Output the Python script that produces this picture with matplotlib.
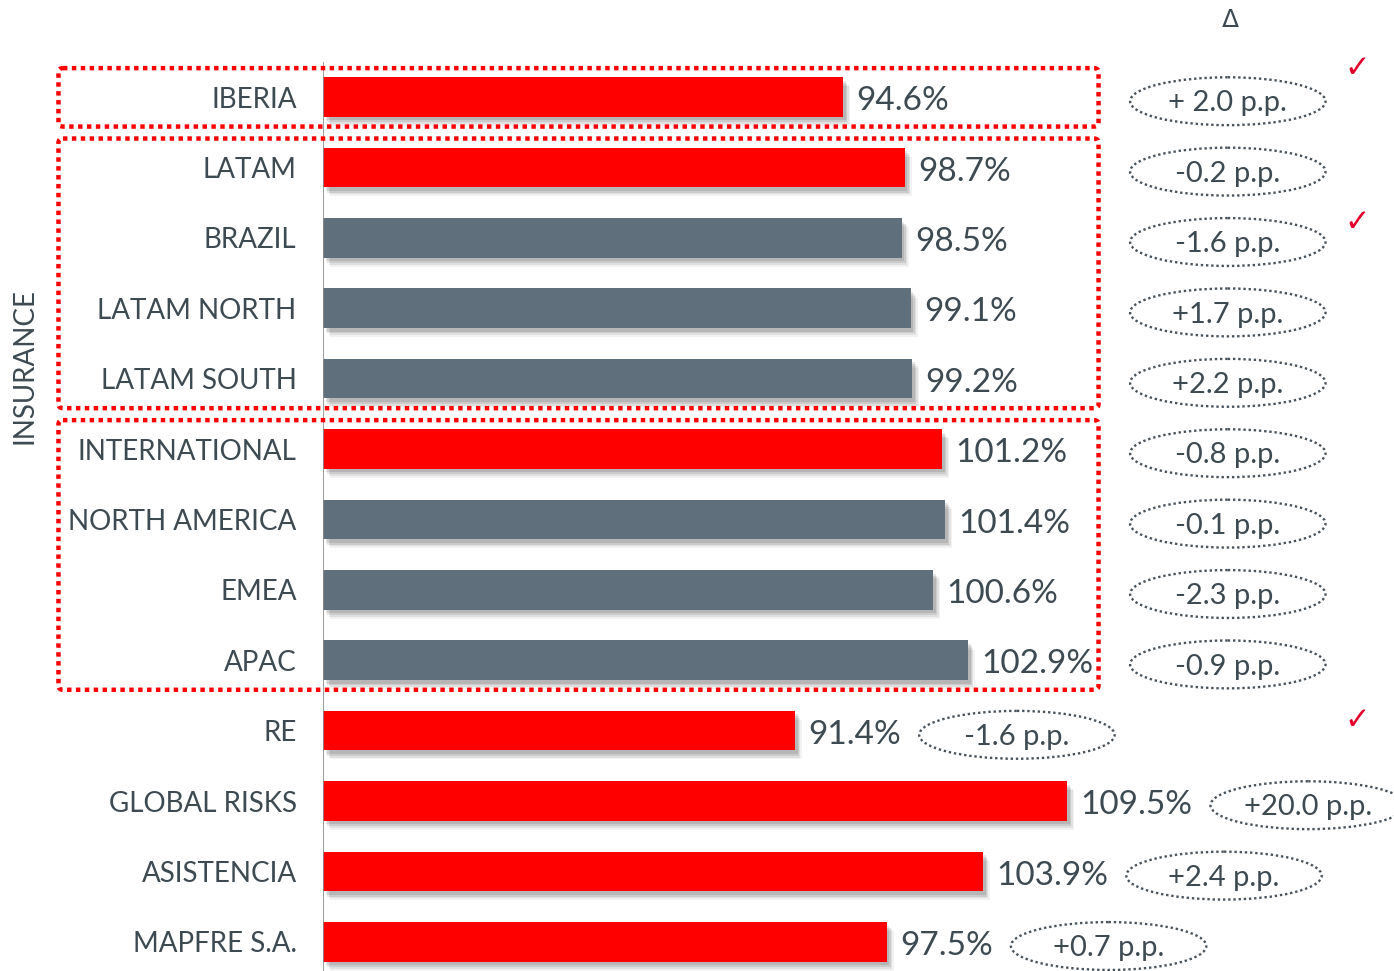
import matplotlib
matplotlib.use("Agg")
import matplotlib.pyplot as plt
from matplotlib.patches import Ellipse, FancyBboxPatch
import matplotlib.patheffects as pe

categories = ["IBERIA", "LATAM", "BRAZIL", "LATAM NORTH", "LATAM SOUTH",
              "INTERNATIONAL", "NORTH AMERICA", "EMEA", "APAC",
              "RE", "GLOBAL RISKS", "ASISTENCIA", "MAPFRE S.A."]
ratios = [94.6, 98.7, 98.5, 99.1, 99.2, 101.2, 101.4, 100.6, 102.9,
          91.4, 109.5, 103.9, 97.5]
deltas = ["+ 2.0 p.p.", "-0.2 p.p.", "-1.6 p.p.", "+1.7 p.p.", "+2.2 p.p.",
          "-0.8 p.p.", "-0.1 p.p.", "-2.3 p.p.", "-0.9 p.p.",
          "-1.6 p.p.", "+20.0 p.p.", "+2.4 p.p.", "+0.7 p.p."]
is_sub = [False, False, True, True, True, False, True, True, True,
          False, False, False, False]
groups = [(0, 0), (1, 4), (5, 8)]

RED = "#ff0000"
GREY = "#5f707c"
TXT = "#3e4a52"
FONT = "Lato"

W, H = 1394, 971
fig = plt.figure(figsize=(W / 100, H / 100), dpi=100)
ax = fig.add_axes([323 / W, 0, 1 - 323 / W, 1])
ax.set_xlim(60, 60 + (W - 323) / 15.03)
ax.set_ylim((H - 97) / 70.4, -97 / 70.4)
for s in ax.spines.values():
    s.set_visible(False)
ax.set_xticks([])

ys = list(range(len(categories)))
colors = [GREY if s else RED for s in is_sub]

# soft shadow under the bars
shadow = [pe.SimplePatchShadow(offset=(o, -o * 1.3), shadow_rgbFace="#000000", alpha=a)
          for o, a in [(5, 0.05), (4, 0.07), (3, 0.09), (2, 0.1)]] + [pe.Normal()]
bars = ax.barh(ys, [r - 60 for r in ratios], left=60, height=0.56, color=colors, zorder=3)
for b in bars:
    b.set_path_effects(shadow)

ax.vlines(60, -0.5, (H - 97) / 70.4, color="#8c8c8c", lw=1.2, zorder=4)

ax.set_yticks(ys)
ax.set_yticklabels(categories, fontsize=20, color=TXT, fontfamily=FONT)
ax.tick_params(axis="y", length=0, pad=19)

value_texts = []
for y, r in zip(ys, ratios):
    t = ax.text(r + 0.9, y + 0.06, f"{r:.1f}%", fontsize=24, color=TXT,
                fontfamily=FONT, va="center", ha="left", zorder=5)
    value_texts.append(t)

fig.canvas.draw()
renderer = fig.canvas.get_renderer()
inv = ax.transData.inverted()

ell_w = 13.0
for y, d, t in zip(ys, deltas, value_texts):
    if y <= 8:
        cx = 120.2
    else:
        # ellipse follows the value label
        end_px = t.get_window_extent(renderer).x1 + 18
        cx = inv.transform((end_px, 0))[0] + ell_w / 2
    ax.add_patch(Ellipse((cx, y + 0.06), ell_w, 0.68, fill=False, ec="#47525b",
                         lw=1.7, ls=(0, (1, 1.2)), clip_on=False, zorder=4))
    ax.text(cx, y + 0.09, d, fontsize=21, color=TXT, fontfamily=FONT,
            ha="center", va="center", zorder=5)

for a, b in groups:
    ax.add_patch(FancyBboxPatch((42.4, a - 0.41), 111.6 - 42.4, b - a + 0.83,
                                boxstyle="round,pad=0,rounding_size=0.3",
                                fill=False, ec=RED, lw=3.2, ls=(0, (1, 1)),
                                clip_on=False, zorder=6,
                                mutation_aspect=0.2))

fig.text(25 / W, 1 - 366 / H, "INSURANCE", rotation=90, fontsize=20, color=TXT,
         fontfamily=FONT, ha="center", va="center")
fig.text(1230 / W, 1 - 20 / H, "Δ", fontsize=18, color=TXT, ha="center", va="center")
for cy in [68, 222, 720]:
    fig.text(1357 / W, 1 - cy / H, "✓", fontsize=22, color="#e3002b",
             fontfamily="DejaVu Sans", ha="center", va="center")

fig.savefig("out.png", dpi=100)
